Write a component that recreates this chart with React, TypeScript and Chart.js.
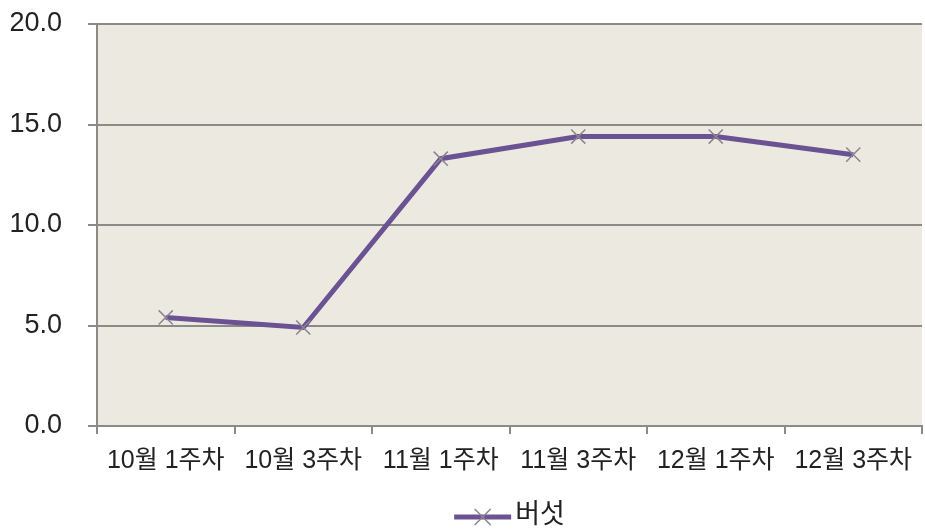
import { useEffect, useRef } from "react";
import { Chart, registerables } from "chart.js";

Chart.register(...registerables);

const categories = ["10월 1주차", "10월 3주차", "11월 1주차", "11월 3주차", "12월 1주차", "12월 3주차"];
const seriesName = "버섯";
const values = [5.4, 4.9, 13.3, 14.4, 14.4, 13.5];
const yTicks = [0, 5, 10, 15, 20];

const FONT = '"Liberation Sans", "Noto Sans CJK KR", sans-serif';
const LINE_COLOR = "#6b5293";
const MARKER_COLOR = "#8a8490";
const GRID_COLOR = "#8a8a86";
const BG_COLOR = "#eceae0";

const bgPlugin = {
  id: "plotBg",
  beforeDraw(chart: any) {
    const { ctx, chartArea } = chart;
    ctx.save();
    ctx.fillStyle = BG_COLOR;
    ctx.fillRect(chartArea.left, chartArea.top, chartArea.right - chartArea.left, chartArea.bottom - chartArea.top);
    ctx.restore();
  },
};

const legendPlugin = {
  id: "customLegend",
  afterDraw(chart: any) {
    const { ctx, chartArea } = chart;
    const ds = chart.data.datasets[0];
    ctx.save();
    ctx.font = '27px "Noto Sans CJK KR", sans-serif';
    const tw = ctx.measureText(ds.label).width;
    const lineW = 57;
    const gap = 4;
    const total = lineW + gap + tw;
    const cx = (chartArea.left + chartArea.right) / 2;
    const x0 = cx - total / 2;
    const y = 517;
    ctx.strokeStyle = LINE_COLOR;
    ctx.lineWidth = 5;
    ctx.beginPath();
    ctx.moveTo(x0, y);
    ctx.lineTo(x0 + lineW, y);
    ctx.stroke();
    const mx = x0 + lineW / 2;
    const r = 8;
    ctx.strokeStyle = MARKER_COLOR;
    ctx.lineWidth = 1.5;
    ctx.beginPath();
    ctx.moveTo(mx - r, y - r);
    ctx.lineTo(mx + r, y + r);
    ctx.moveTo(mx - r, y + r);
    ctx.lineTo(mx + r, y - r);
    ctx.stroke();
    ctx.fillStyle = "#222";
    ctx.textBaseline = "middle";
    ctx.textAlign = "left";
    ctx.fillText(ds.label, x0 + lineW + gap, y - 4);
    ctx.restore();
  },
};

export default function App() {
  const ref = useRef<HTMLCanvasElement | null>(null);

  useEffect(() => {
    document.body.style.margin = "0";
    if (!ref.current) return;
    const chart = new Chart(ref.current, {
      type: "line",
      data: {
        labels: categories,
        datasets: [
          {
            label: seriesName,
            data: values,
            borderColor: LINE_COLOR,
            borderWidth: 5,
            pointStyle: "crossRot",
            pointRadius: 10,
            pointBorderWidth: 1.5,
            pointBorderColor: MARKER_COLOR,
            pointBackgroundColor: MARKER_COLOR,
            tension: 0,
          },
        ],
      },
      options: {
        responsive: false,
        animation: false,
        layout: { autoPadding: false, padding: { top: 24, right: 3, left: 0, bottom: 0 } },
        plugins: { legend: { display: false }, tooltip: { enabled: false } },
        scales: {
          x: {
            offset: true,
            grid: {
              offset: true,
              drawOnChartArea: false,
              drawTicks: true,
              tickLength: 8,
              color: GRID_COLOR,
              lineWidth: 2,
            },
            border: { display: true, color: GRID_COLOR, width: 2 },
            ticks: {
              color: "#222",
              font: { family: FONT, size: 25 },
              padding: 12,
              maxRotation: 0,
              autoSkip: false,
            },
            afterFit(scale: any) {
              scale.height = 104;
              scale.paddingLeft = 0;
              scale.paddingRight = 0;
            },
          },
          y: {
            min: 0,
            max: 20,
            afterBuildTicks(scale: any) {
              scale.ticks = yTicks.map((v) => ({ value: v }));
            },
            grid: {
              color: GRID_COLOR,
              lineWidth: 2,
              tickLength: 9,
              drawTicks: true,
            },
            border: { display: true, color: GRID_COLOR, width: 2 },
            ticks: {
              color: "#222",
              font: { family: FONT, size: 27 },
              padding: 26,
              callback: (v: any) => Number(v).toFixed(1),
            },
            afterFit(scale: any) {
              scale.width = 97;
              scale.paddingTop = 0;
              scale.paddingBottom = 0;
            },
          },
        },
      },
      plugins: [bgPlugin, legendPlugin],
    });
    return () => chart.destroy();
  }, []);

  return (
    <div style={{ width: 925, height: 530, position: "relative", overflow: "hidden" }}>
      <canvas ref={ref} width={925} height={530} style={{ display: "block" }} />
    </div>
  );
}
